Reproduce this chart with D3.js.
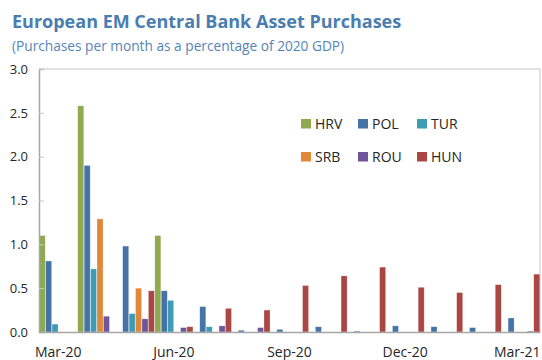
<!DOCTYPE html>
<html>
<head>
<meta charset="utf-8">
<script src="https://cdn.jsdelivr.net/npm/d3@7"></script>
<style>
  html, body { margin: 0; padding: 0; background: #fff; }
  svg { display: block; font-family: "Open Sans", "Noto Sans", sans-serif; }
</style>
</head>
<body>
<svg id="chart" width="542" height="360"></svg>
<script>
// Months on the x axis
const months = ["Mar-20", "Apr-20", "May-20", "Jun-20", "Jul-20", "Aug-20", "Sep-20",
                "Oct-20", "Nov-20", "Dec-20", "Jan-21", "Feb-21", "Mar-21"];
const labelledMonths = ["Mar-20", "Jun-20", "Sep-20", "Dec-20", "Mar-21"];

// Purchases per month, % of 2020 GDP
const seriesNames = ["HRV", "POL", "TUR", "SRB", "ROU", "HUN"];
const HRV = [1.10, 2.58, 0.00, 1.10, 0.00, 0.00, 0.00, 0.00, 0.00, 0.00, 0.00, 0.00, 0.00];
const POL = [0.81, 1.90, 0.98, 0.47, 0.29, 0.02, 0.03, 0.06, 0.01, 0.07, 0.06, 0.05, 0.16];
const TUR = [0.09, 0.72, 0.21, 0.36, 0.06, 0.00, 0.00, 0.00, 0.00, 0.00, 0.00, 0.00, 0.00];
const SRB = [0.00, 1.29, 0.50, 0.00, 0.00, 0.00, 0.00, 0.00, 0.00, 0.00, 0.00, 0.00, 0.00];
const ROU = [0.00, 0.18, 0.15, 0.05, 0.07, 0.05, 0.00, 0.00, 0.00, 0.00, 0.00, 0.00, 0.01];
const HUN = [0.00, 0.00, 0.47, 0.06, 0.27, 0.25, 0.53, 0.64, 0.74, 0.51, 0.45, 0.54, 0.66];
const seriesValues = [HRV, POL, TUR, SRB, ROU, HUN];

const yTicks = [0, 0.5, 1.0, 1.5, 2.0, 2.5, 3.0];

const colors = {
  HRV: "#8ea94f", POL: "#4572a7", TUR: "#3d9cb3",
  SRB: "#e0873a", ROU: "#6f5599", HUN: "#aa4643"
};

const svg = d3.select("#chart");
const plot = { left: 39, right: 540, top: 69, bottom: 332 };

// Title block
svg.append("text")
  .attr("x", 12).attr("y", 28)
  .attr("fill", "#4a7db0")
  .attr("font-size", 18).attr("font-weight", 700)
  .text("European EM Central Bank Asset Purchases");
svg.append("text")
  .attr("x", 12).attr("y", 51)
  .attr("fill", "#5584b8")
  .attr("font-size", 13.7)
  .text("(Purchases per month as a percentage of 2020 GDP)");

// Scales
const x0 = d3.scaleBand().domain(months).range([plot.left, plot.right]).padding(0);
const x1 = d3.scaleBand().domain(seriesNames).range([0, x0.bandwidth()]).padding(0);
const y = d3.scaleLinear().domain([0, 3]).range([plot.bottom, plot.top]);

// Plot frame (top and right edges)
svg.append("path")
  .attr("d", `M${plot.left},${plot.top}H${plot.right}V${plot.bottom}`)
  .attr("fill", "none").attr("stroke", "#d9d9d9").attr("stroke-width", 1.5);

// Bars
const rows = months.map((m, i) => ({
  month: m,
  values: seriesNames.map((s, j) => ({ key: s, value: seriesValues[j][i] }))
}));

svg.append("g")
  .selectAll("g")
  .data(rows)
  .join("g")
  .attr("transform", d => `translate(${x0(d.month)},0)`)
  .selectAll("rect")
  .data(d => d.values.filter(v => v.value > 0))
  .join("rect")
  .attr("x", d => x1(d.key) + 0.2)
  .attr("width", x1.bandwidth() - 0.4)
  .attr("y", d => y(d.value))
  .attr("height", d => plot.bottom - y(d.value))
  .attr("fill", d => colors[d.key])
  .attr("stroke", "#ffffff").attr("stroke-opacity", 0.45).attr("stroke-width", 0.6);

// Y axis with inward ticks
const yAxis = svg.append("g")
  .attr("transform", `translate(${plot.left},0)`)
  .call(d3.axisLeft(y).tickValues(yTicks).tickFormat(d3.format(".1f"))
    .tickSize(-5).tickPadding(11));
yAxis.select(".domain").attr("stroke", "#a6a6a6").attr("stroke-width", 1.5);
yAxis.selectAll(".tick line").attr("stroke", "#c8c8c8");
yAxis.selectAll(".tick text")
  .attr("font-family", "\"Open Sans\", sans-serif")
  .attr("font-size", 13).attr("fill", "#262626");

// X axis, labelled quarterly
const xAxis = svg.append("g")
  .attr("transform", `translate(0,${plot.bottom})`)
  .call(d3.axisBottom(x0).tickValues(labelledMonths).tickSize(0).tickPadding(15));
xAxis.select(".domain").attr("stroke", "#a6a6a6").attr("stroke-width", 1.5);
xAxis.selectAll(".tick text")
  .attr("font-family", "\"Open Sans\", sans-serif")
  .attr("font-size", 14).attr("fill", "#262626");
// keep the last label inside the right edge
xAxis.selectAll(".tick text")
  .filter(d => d === labelledMonths[labelledMonths.length - 1])
  .attr("dx", -3.5);

// Legend: two rows of three
const legendCols = [301, 358, 417];
const legendRows = [119, 152];
const legend = svg.append("g");
seriesNames.forEach((s, i) => {
  const lx = legendCols[i % 3], ly = legendRows[Math.floor(i / 3)];
  legend.append("rect")
    .attr("x", lx).attr("y", ly).attr("width", 10).attr("height", 9.5)
    .attr("fill", colors[s]);
  legend.append("text")
    .attr("x", lx + 14).attr("y", ly + 10)
    .attr("font-size", 14).attr("fill", "#262626")
    .text(s);
});
</script>
</body>
</html>
